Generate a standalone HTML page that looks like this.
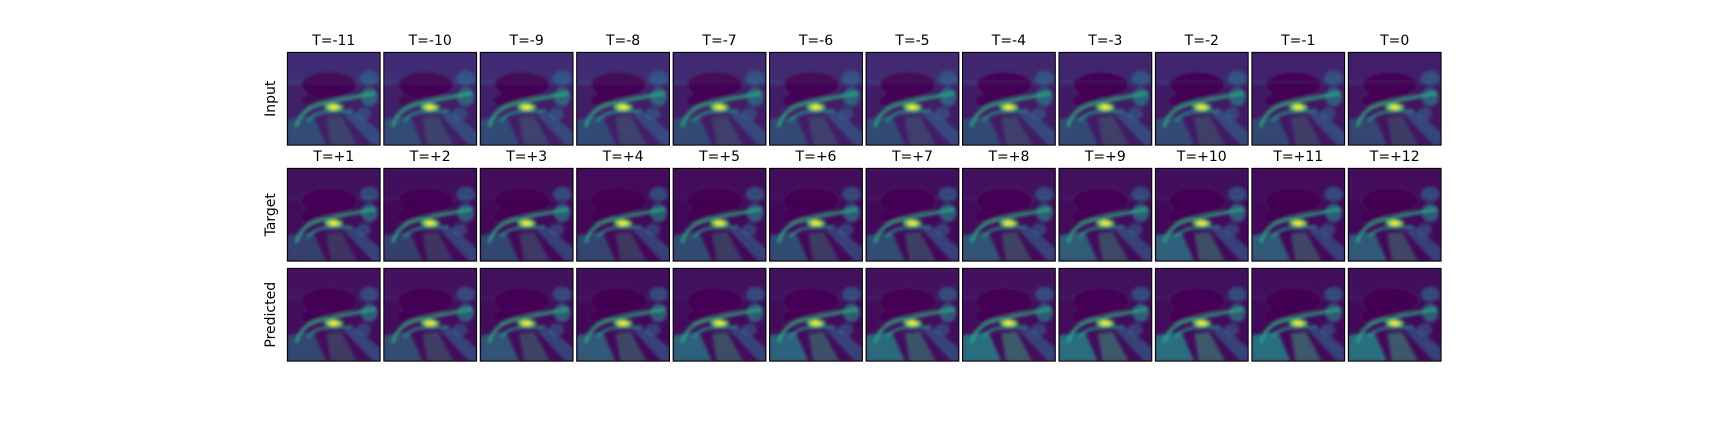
<!DOCTYPE html>
<html><head><meta charset="utf-8"><style>
html,body{margin:0;padding:0;background:#fff;}
body{width:1728px;height:432px;position:relative;overflow:hidden;font-family:"DejaVu Sans","Liberation Sans",sans-serif;}
</style></head><body>
<svg id="fig" width="1728" height="432" viewBox="0 0 1728 432" xmlns="http://www.w3.org/2000/svg">
<defs>
<filter id="bl" x="-10%" y="-10%" width="120%" height="120%"><feGaussianBlur stdDeviation="1.6"/></filter>
<clipPath id="pc"><rect x="0" y="0" width="100" height="100"/></clipPath>
</defs>
</svg>
<script>
const inputTitles=["T=-11","T=-10","T=-9","T=-8","T=-7","T=-6","T=-5","T=-4","T=-3","T=-2","T=-1","T=0"];
const targetTitles=["T=+1","T=+2","T=+3","T=+4","T=+5","T=+6","T=+7","T=+8","T=+9","T=+10","T=+11","T=+12"];
const rowLabels=["Input","Target","Predicted"];
// background brightness per panel (0..1)
const inputLift=[0.6,0.6,0.58,0.58,0.55,0.55,0.55,0.52,0.5,0.5,0.45,0.4];
const targetLift=[0.2,0.18,0.15,0.12,0.15,0.15,0.18,0.2,0.2,0.18,0.15,0.15];
const predLift=[0.22,0.22,0.2,0.18,0.2,0.2,0.22,0.22,0.2,0.2,0.18,0.18];
// lower region greenness per panel (0..1)
const inputGreen=[0.4,0.4,0.4,0.4,0.4,0.4,0.4,0.4,0.4,0.4,0.4,0.4];
const targetGreen=[0.4,0.4,0.45,0.45,0.5,0.5,0.5,0.55,0.6,0.65,0.6,0.6];
const predGreen=[0.45,0.5,0.55,0.6,0.65,0.67,0.7,0.75,0.75,0.75,0.75,0.75];

const NS="http://www.w3.org/2000/svg";
const fig=document.getElementById('fig');
const X0=287,PITCH=96.45,W=93.5,H=93.5;
const rowTops=[52,168,268];
function el(t,a,p){const e=document.createElementNS(NS,t);for(const k in a)e.setAttribute(k,a[k]);(p||fig).appendChild(e);return e;}

function panel(r,c,lift,green){
  const g=el('g',{transform:`translate(${X0+c*PITCH},${rowTops[r]}) scale(${W/100},${H/100})`});
  
  
  const inner=el('g',{'clip-path':'url(#pc)'},g);
  el('rect',{x:0,y:0,width:100,height:100,fill:'#440154'},inner);
  const f=el('g',{filter:'url(#bl)'},inner);
  el('rect',{x:-5,y:-5,width:110,height:40,fill:'#3e4a89',opacity:lift},f);
  el('rect',{x:-5,y:30,width:110,height:75,fill:'#3b528b',opacity:lift*0.6},f);
  el('ellipse',{cx:45,cy:35,rx:30,ry:14,fill:'#440154',opacity:0.85},f);
  el('ellipse',{cx:28,cy:52,rx:14,ry:8,fill:'#440154',opacity:0.8},f);
  el('ellipse',{cx:88,cy:28,rx:10,ry:8,fill:'#2c728e',opacity:0.6},f);
  el('ellipse',{cx:88,cy:48,rx:9,ry:10,fill:'#21918c',opacity:0.6},f);
  el('ellipse',{cx:82,cy:66,rx:8,ry:7,fill:'#31688e',opacity:0.55},f);
  el('path',{d:'M0,72 L28,68 L42,100 L0,100 Z',fill:'#21918c',opacity:green},f);
  el('path',{d:'M42,70 L58,68 L75,100 L47,100 Z',fill:'#35b779',opacity:green*0.6},f);
  el('path',{d:'M60,66 L74,64 L100,86 L100,100 L92,100 Z',fill:'#31688e',opacity:0.6},f);
  el('path',{d:'M10,80 Q14,62 35,56 Q60,50 95,44',fill:'none',stroke:'#27ad81',"stroke-width":3.5,opacity:0.85},f);
  el('path',{d:'M22,74 Q30,64 44,64 L70,63',fill:'none',stroke:'#1f9e89',"stroke-width":3,opacity:0.8},f);
  el('ellipse',{cx:50,cy:59,rx:10,ry:4,fill:'#5ec962'},f);
  el('ellipse',{cx:50,cy:59,rx:5,ry:2.4,fill:'#fde725'},f);
  el('rect',{x:0.4,y:0.4,width:99.2,height:99.2,fill:'none',stroke:'#000','stroke-width':1.1},g);
}
function title(r,c,txt){
  const t=el('text',{x:X0+c*PITCH+W/2,y:rowTops[r]-7,'text-anchor':'middle','font-size':14,fill:'#000'});
  
  
  t.textContent=txt;
}
for(let c=0;c<12;c++){
  panel(0,c,inputLift[c],inputGreen[c]);
  panel(1,c,targetLift[c],targetGreen[c]);
  panel(2,c,predLift[c],predGreen[c]);
  title(0,c,inputTitles[c]);
  title(1,c,targetTitles[c]);
}
rowLabels.forEach((lab,r)=>{
  const cy=rowTops[r]+H/2;
  const t=el('text',{x:0,y:0,transform:`translate(275,${cy}) rotate(-90)`,'text-anchor':'middle','font-size':14,fill:'#000'});
  
  
  t.textContent=lab;
});
</script>
</body></html>
